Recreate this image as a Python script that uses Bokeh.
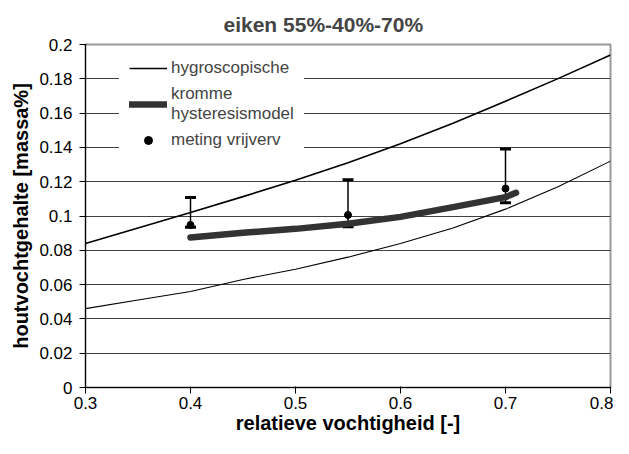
from bokeh.plotting import figure
from bokeh.models import (Range1d, FixedTicker, Legend, LegendItem, Whisker,
                          TeeHead, ColumnDataSource)
from bokeh.embed import file_html
from bokeh.resources import INLINE

# ---- data ----
rh_grid = [0.30, 0.35, 0.40, 0.45, 0.50, 0.55, 0.60, 0.65, 0.70, 0.75, 0.80]
hygro_upper = [0.084, 0.093, 0.102, 0.1113, 0.1208, 0.1311, 0.1421, 0.1541, 0.1669, 0.1801, 0.1939]
hygro_lower = [0.046, 0.051, 0.056, 0.063, 0.069, 0.076, 0.084, 0.093, 0.104, 0.117, 0.132]

model_rh = [0.40, 0.45, 0.50, 0.55, 0.60, 0.65, 0.70, 0.71]
model_mc = [0.0875, 0.0902, 0.0925, 0.0955, 0.0995, 0.1052, 0.111, 0.1135]

meas_rh = [0.40, 0.55, 0.70]
meas_mc = [0.0948, 0.1006, 0.116]
meas_lo = [0.0935, 0.0937, 0.1077]
meas_hi = [0.1108, 0.1211, 0.139]

x_ticks = [0.3, 0.4, 0.5, 0.6, 0.7, 0.8]
x_tick_labels = ["0.3", "0.4", "0.5", "0.6", "0.7", "0.8"]
y_ticks = [0, 0.02, 0.04, 0.06, 0.08, 0.1, 0.12, 0.14, 0.16, 0.18, 0.2]
y_tick_labels = ["0", "0.02", "0.04", "0.06", "0.08", "0.1", "0.12", "0.14", "0.16", "0.18", "0.2"]

title_text = "eiken 55%-40%-70%"
x_label = "relatieve vochtigheid [-]"
y_label = "houtvochtgehalte [massa%]"
legend_labels = ["hygroscopische", "kromme\nhysteresismodel", "meting vrijverv"]

FONT = "Liberation Sans"

p = figure(width=613, height=438, output_backend="svg", toolbar_location=None,
           x_range=Range1d(0.3, 0.8), y_range=Range1d(0, 0.2),
           min_border_left=85, min_border_right=3, min_border_top=44,
           min_border_bottom=51)

p.title.text = title_text
p.title.text_font = FONT
p.title.text_font_size = "21px"
p.title.text_font_style = "bold"
p.title.align = "left"
p.title.offset = 138
p.title.standoff = 17

p.background_fill_color = "white"
p.border_fill_color = "white"
p.outline_line_color = "#999999"
p.outline_line_width = 2

# grid
p.xgrid.visible = False
p.ygrid.ticker = FixedTicker(ticks=y_ticks)
p.ygrid.grid_line_color = "#404040"
p.ygrid.grid_line_width = 1

# axes
p.xaxis.ticker = FixedTicker(ticks=x_ticks)
p.xaxis.major_label_overrides = {t: l for t, l in zip(x_ticks, x_tick_labels)}
p.yaxis.ticker = FixedTicker(ticks=y_ticks)
p.yaxis.major_label_overrides = {t: l for t, l in zip(y_ticks, y_tick_labels)}
for ax in (p.xaxis, p.yaxis):
    ax.axis_line_color = "black"
    ax.axis_line_width = 1
    ax.major_tick_line_color = "black"
    ax.major_tick_out = 6
    ax.major_tick_in = 1
    ax.minor_tick_line_color = None
    ax.major_label_text_font = FONT
    ax.major_label_text_font_size = "17px"
    ax.major_label_text_color = "black"
    ax.axis_label_text_font = FONT
    ax.axis_label_text_font_size = "20px"
    ax.axis_label_text_font_style = "bold"
    ax.axis_label_text_color = "black"
p.xaxis.axis_label = x_label
p.yaxis.axis_label = y_label
p.xaxis.major_label_standoff = 3
p.xaxis.axis_label_standoff = 0
p.yaxis.major_label_standoff = 7
p.yaxis.axis_label_standoff = 4

# curves
r_upper = p.line(rh_grid, hygro_upper, line_color="black", line_width=1.6)
r_lower = p.line(rh_grid, hygro_lower, line_color="black", line_width=1.1)
r_model = p.line(model_rh, model_mc, line_color="#333333", line_width=6.5,
                 line_cap="round", line_join="round")

src = ColumnDataSource(dict(x=meas_rh, y=meas_mc, lo=meas_lo, hi=meas_hi))
wh = Whisker(source=src, base="x", upper="hi", lower="lo",
             line_color="black", line_width=1.5,
             upper_head=TeeHead(size=11, line_width=3, line_color="black"),
             lower_head=TeeHead(size=11, line_width=3, line_color="black"))
p.add_layout(wh)
r_meas = p.scatter("x", "y", source=src, size=7, marker="circle",
                   fill_color="black", line_color="black")

legend = Legend(items=[
    LegendItem(label=legend_labels[0], renderers=[r_upper]),
    LegendItem(label=legend_labels[1], renderers=[r_model]),
    LegendItem(label=legend_labels[2], renderers=[r_meas]),
], location=(34, 227))
legend.label_text_font = FONT
legend.label_text_font_size = "17px"
legend.label_text_line_height = 0.95
legend.label_height = 20
legend.glyph_height = 20
legend.glyph_width = 38
legend.label_standoff = 4
legend.spacing = 6
legend.padding = 10
legend.margin = 0
legend.border_line_alpha = 0
legend.background_fill_color = "white"
legend.background_fill_alpha = 1
p.add_layout(legend)

open("out.html", "w").write(file_html(p, INLINE))
